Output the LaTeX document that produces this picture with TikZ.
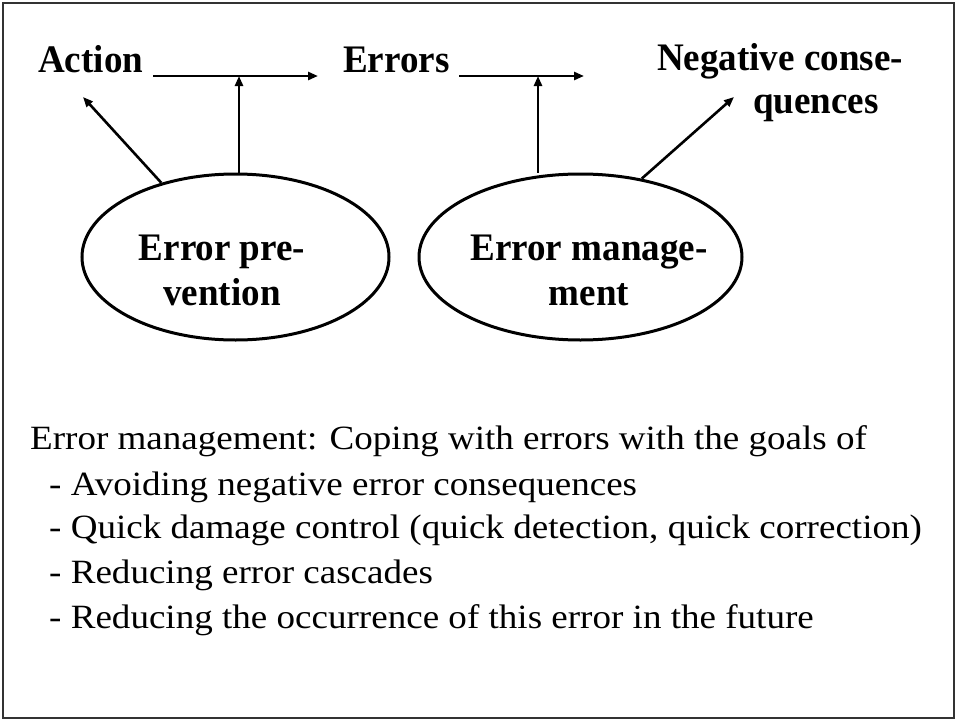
\documentclass[tikz,border=0pt]{standalone}
\usepackage{fontspec}
\setmainfont{Liberation Serif}
\newfontfamily\headf[FakeStretch=0.95]{Liberation Serif Bold}
\newfontfamily\bodyf[FakeStretch=1.09]{Liberation Serif}
\usetikzlibrary{arrows.meta,shapes.geometric}
\begin{document}
\begin{tikzpicture}[x=1pt,y=-1pt,
  arr/.style={line width=2.6pt,-{Triangle[length=10pt,width=8pt]}},
  oval/.style={ellipse,draw,line width=3pt,inner sep=0pt},
  head/.style={inner sep=0pt,font=\headf\fontsize{39}{43}\selectfont},
  body/.style={inner sep=0pt,anchor=base west,font=\bodyf\fontsize{34}{40}\selectfont}]
\useasboundingbox (0,0) rectangle (959,720);
% outer frame
\draw[black!80,line width=2.2pt] (3,3) rectangle (954,718);

% top row of labels
\node[head,anchor=base west] (act) at (38,72) {Action};
\node[head,anchor=base west] (err) at (343,72) {Errors};
\node[head,anchor=base] (neg1) at (780,70) {Negative conse-};
\node[head,anchor=base] (neg2) at (816,113) {quences};

% the two ellipses and their labels
\node[oval,minimum width=307pt,minimum height=166pt] (EP) at (235.5,257) {};
\node[oval,minimum width=323pt,minimum height=166pt] (EM) at (580.5,257) {};
\node[head,anchor=base] (ep1) at (222,260) {Error pre-};
\node[head,anchor=base] (ep2) at (222,305) {vention};
\node[head,anchor=base] (em1) at (589,260) {Error manage-};
\node[head,anchor=base] (em2) at (589,305) {ment};

% arrow end points
\coordinate (h1s) at (153,76);
\coordinate (h1e) at (318,76);
\coordinate (h1m) at (239,76);
\coordinate (h2s) at (459,76);
\coordinate (h2e) at (584,76);
\coordinate (h2m) at (538,76);
\coordinate (actTip) at (83,97);
\coordinate (negTip) at (734,97);

% connectors
\draw[arr] (h1s) -- (h1e);
\draw[arr] (h2s) -- (h2e);
\draw[arr] (h1m |- EP.north) -- (h1m);
\draw[arr] (h2m |- EM.north) -- (h2m);
\draw[arr] (EP.135) -- (actTip);
\draw[arr] (EM.52) -- (negTip);

% explanatory text
\node[body] (t1) at (30,449) {Error management: Coping with errors with the goals of};
\node[body] (t2) at (49,495) {- Avoiding negative error consequences};
\node[body] (t3) at (49,538) {- Quick damage control (quick detection, quick correction)};
\node[body] (t4) at (49,583) {- Reducing error cascades};
\node[body] (t5) at (49,628) {- Reducing the occurrence of this error in the future};
\end{tikzpicture}
\end{document}
